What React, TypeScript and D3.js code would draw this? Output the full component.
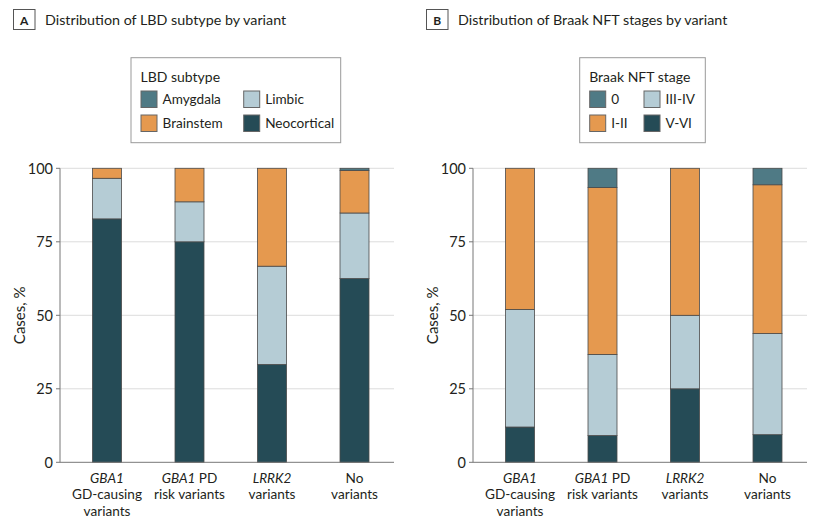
import React from 'react';
import * as d3 from 'd3';

// x-axis categories (italic parts flagged)
const variantLabels = [
  [[{ t: 'GBA1', i: true }], [{ t: 'GD-causing' }], [{ t: 'variants' }]],
  [[{ t: 'GBA1', i: true }, { t: ' PD' }], [{ t: 'risk variants' }]],
  [[{ t: 'LRRK2', i: true }], [{ t: 'variants' }]],
  [[{ t: 'No' }], [{ t: 'variants' }]],
];
const variants = ['gd', 'pdrisk', 'lrrk2', 'none'];

// Panel A: LBD subtype (%)
const lbdKeys = ['Neocortical', 'Limbic', 'Brainstem', 'Amygdala'];
const neocortical = [82.8, 75.0, 33.3, 62.5];
const limbic = [13.8, 13.6, 33.4, 22.3];
const brainstem = [3.4, 11.4, 33.3, 14.5];
const amygdala = [0, 0, 0, 0.7];
const lbdLegend = ['Amygdala', 'Limbic', 'Brainstem', 'Neocortical'];

// Panel B: Braak NFT stage (%)
const braakKeys = ['V-VI', 'III-IV', 'I-II', '0'];
const stageVVI = [12.0, 9.1, 25, 9.4];
const stageIIIIV = [40.0, 27.6, 25, 34.4];
const stageIII = [48.0, 56.8, 50, 50.6];
const stage0 = [0, 6.5, 0, 5.6];
const braakLegend = ['0', 'III-IV', 'I-II', 'V-VI'];

const yTicks = [0, 25, 50, 75, 100];

const FONT = 'Lato, "Noto Sans", sans-serif';
const TEXT = '#231f20';

const colorA: Record<string, string> = {
  Amygdala: '#4f7a85', Brainstem: '#e5994f', Limbic: '#b5ccd5', Neocortical: '#254b56',
};
const colorB: Record<string, string> = {
  '0': '#4f7a85', 'I-II': '#e5994f', 'III-IV': '#b5ccd5', 'V-VI': '#254b56',
};

const y = d3.scaleLinear().domain([0, 100]).range([462.3, 168.3]);
const x = d3.scalePoint<string>().domain(variants).range([107, 354.5]);
const barW = 29;
const axisX = 60;
const axisEnd = 394;

function Panel(props: {
  dx: number; letter: string; title: string; legendTitle: string;
  legendItems: string[]; colors: Record<string, string>; keys: string[];
  rows: Record<string, number>[]; legendBox: [number, number]; legendCol2: number;
}) {
  const { dx, letter, title, legendTitle, legendItems, colors, keys, rows, legendBox, legendCol2 } = props;
  const series = d3.stack<Record<string, number>>().keys(keys)(rows);
  const [lx0, lx1] = legendBox;
  return (
    <g transform={`translate(${dx},0)`} fontFamily={FONT} fill={TEXT}>
      <rect x={13.5} y={9.5} width={21.5} height={20} fill="#fff" stroke="#555" strokeWidth={1} />
      <text x={24.25} y={24.5} fontSize={12} fontWeight="bold" textAnchor="middle">{letter}</text>
      <text x={45} y={25} fontSize={14.3}>{title}</text>

      <rect x={lx0} y={57.7} width={lx1 - lx0} height={85} fill="#fff" stroke="#999" strokeWidth={1} />
      <text x={lx0 + 9.5} y={81.5} fontSize={14}>{legendTitle}</text>
      {legendItems.map((k, i) => {
        const col = i % 2;
        const row = Math.floor(i / 2);
        const sx = col === 0 ? lx0 + 10 : legendCol2;
        const sy = 91 + row * 24;
        return (
          <g key={k}>
            <rect x={sx} y={sy} width={16} height={16.5} fill={colors[k]} stroke="#666" strokeWidth={1} />
            <text x={sx + 21.5} y={sy + 13} fontSize={13.6}>{k}</text>
          </g>
        );
      })}

      {yTicks.map((t) => (
        <g key={t}>
          {t > 0 && <line x1={axisX} x2={axisEnd} y1={y(t)} y2={y(t)} stroke="#dcdcdc" strokeWidth={1} />}
          <line x1={axisX - 4} x2={axisX} y1={y(t)} y2={y(t)} stroke="#777" />
          <text x={axisX - 7} y={y(t)} dy="0.36em" fontSize={14.5} textAnchor="end">{t}</text>
        </g>
      ))}
      <text transform={`translate(25,${(y(0) + y(100)) / 2}) rotate(-90)`} fontSize={15} textAnchor="middle">Cases, %</text>

      {series.map((s) => (
        <g key={s.key} fill={colors[s.key]}>
          {s.map((d, i) => (d[1] - d[0] > 0 ? (
            <rect key={i} x={(x(variants[i]) || 0) - barW / 2} y={y(d[1])} width={barW}
              height={y(d[0]) - y(d[1])} stroke="#4a4a4a" strokeWidth={0.8} />
          ) : null))}
        </g>
      ))}

      <line x1={axisX} x2={axisX} y1={y(100)} y2={y(0)} stroke="#777" />
      <line x1={axisX} x2={axisEnd} y1={y(0)} y2={y(0)} stroke="#777" />

      {variantLabels.map((lines, i) => (
        <text key={i} x={x(variants[i])} textAnchor="middle" fontSize={13.6}>
          {lines.map((segs, j) => (
            <tspan key={j} x={x(variants[i])} y={482.5 + j * 16.5}>
              {segs.map((s: { t: string; i?: boolean }, k) => (
                <tspan key={k} fontStyle={s.i ? 'italic' : 'normal'}>{s.t}</tspan>
              ))}
            </tspan>
          ))}
        </text>
      ))}
    </g>
  );
}

export default function App() {
  const rowsA = variants.map((_, i) => ({
    Neocortical: neocortical[i], Limbic: limbic[i], Brainstem: brainstem[i], Amygdala: amygdala[i],
  }));
  const rowsB = variants.map((_, i) => ({
    'V-VI': stageVVI[i], 'III-IV': stageIIIIV[i], 'I-II': stageIII[i], '0': stage0[i],
  }));
  return (
    <svg width={826} height={528} style={{ position: 'absolute', left: 0, top: 0, background: '#fff' }}>
      <Panel dx={0} letter="A" title="Distribution of LBD subtype by variant" legendTitle="LBD subtype"
        legendItems={lbdLegend} colors={colorA} keys={lbdKeys} rows={rowsA}
        legendBox={[131, 340.7]} legendCol2={243.7} />
      <Panel dx={413} letter="B" title="Distribution of Braak NFT stages by variant" legendTitle="Braak NFT stage"
        legendItems={braakLegend} colors={colorB} keys={braakKeys} rows={rowsB}
        legendBox={[166.7, 292.3]} legendCol2={231} />
    </svg>
  );
}
